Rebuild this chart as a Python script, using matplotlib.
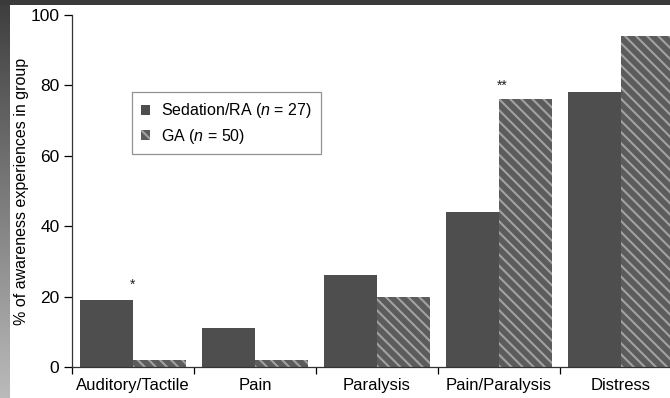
import numpy as np
import matplotlib
matplotlib.use("Agg")
import matplotlib.pyplot as plt
from matplotlib.patches import Rectangle

plt.rcParams['font.family'] = ['Liberation Sans', 'DejaVu Sans']
plt.rcParams['mathtext.fontset'] = 'custom'
plt.rcParams['mathtext.it'] = 'Liberation Sans:italic'
plt.rcParams['mathtext.rm'] = 'Liberation Sans'
plt.rcParams['hatch.linewidth'] = 1.5
plt.rcParams['hatch.color'] = '#a2a2a2'

categories = ['Auditory/Tactile', 'Pain', 'Paralysis', 'Pain/Paralysis', 'Distress']
sedation_ra = [19, 11, 26, 44, 78]
general_anaes = [2, 2, 20, 76, 94]
# significance markers: (category index, label, height)
markers = [(0, '*', 21.5), (3, '**', 78)]

W, H = 670, 398
fig = plt.figure(figsize=(W / 100, H / 100), dpi=100)
fig.patch.set_facecolor('white')

# dark frame band along top and shaded strip on the left
bg = fig.add_axes([0, 0, 1, 1], zorder=-5)
bg.set_axis_off()
grad = np.linspace(0.24, 0.73, 256).reshape(-1, 1)
bg.imshow(grad, cmap='gray', vmin=0, vmax=1, aspect='auto',
          extent=[0, 10 / W, 0, 1], origin='upper')
bg.add_patch(Rectangle((0, 1 - 5 / H), 1, 5 / H, color='#3a3a3a', lw=0))
bg.set_xlim(0, 1)
bg.set_ylim(0, 1)

ax = fig.add_axes([72 / W, 31 / H, 610 / W, 352 / H])
x = np.arange(len(categories))
w = 0.434

ax.bar(x - w / 2, sedation_ra, width=w, color='#4e4e4e', lw=0,
       label='Sedation/RA ($n$ = 27)')
ax.bar(x + w / 2, general_anaes, width=w, color='#5c5c5c', lw=0,
       hatch='\\\\\\', label='GA ($n$ = 50)')

for i, txt, h in markers:
    ax.text(x[i] + (0.03 if len(txt) > 1 else 0), h, txt, ha='center',
            va='bottom', fontsize=10, color='#222222')

ax.set_xlim(-0.5, len(categories) - 0.5)
ax.set_ylim(0, 100)
ax.set_yticks([0, 20, 40, 60, 80, 100])
ax.set_xticks(x)
ax.set_xticklabels(categories, fontsize=12)
ax.set_xticks(np.arange(len(categories) + 1) - 0.5, minor=True)
ax.tick_params(axis='x', which='major', length=0, pad=8)
ax.tick_params(axis='x', which='minor', length=5, width=0.9, direction='out')
ax.tick_params(axis='y', length=6, width=0.9, labelsize=12.5, pad=3)
ax.set_ylabel('% of awareness experiences in group', fontsize=11.5, labelpad=1)

for s in ('top', 'right'):
    ax.spines[s].set_visible(False)
for s in ('left', 'bottom'):
    ax.spines[s].set_linewidth(0.9)
    ax.spines[s].set_color('#333333')

leg = ax.legend(loc='upper left', bbox_to_anchor=(0.098, 0.78), fontsize=11.5,
                fancybox=False, edgecolor='#777777', handlelength=0.6,
                handleheight=0.6, handletextpad=0.7, borderpad=0.55,
                labelspacing=0.4, borderaxespad=0)
leg.get_frame().set_linewidth(0.9)

fig.savefig('out.png', dpi=100)
